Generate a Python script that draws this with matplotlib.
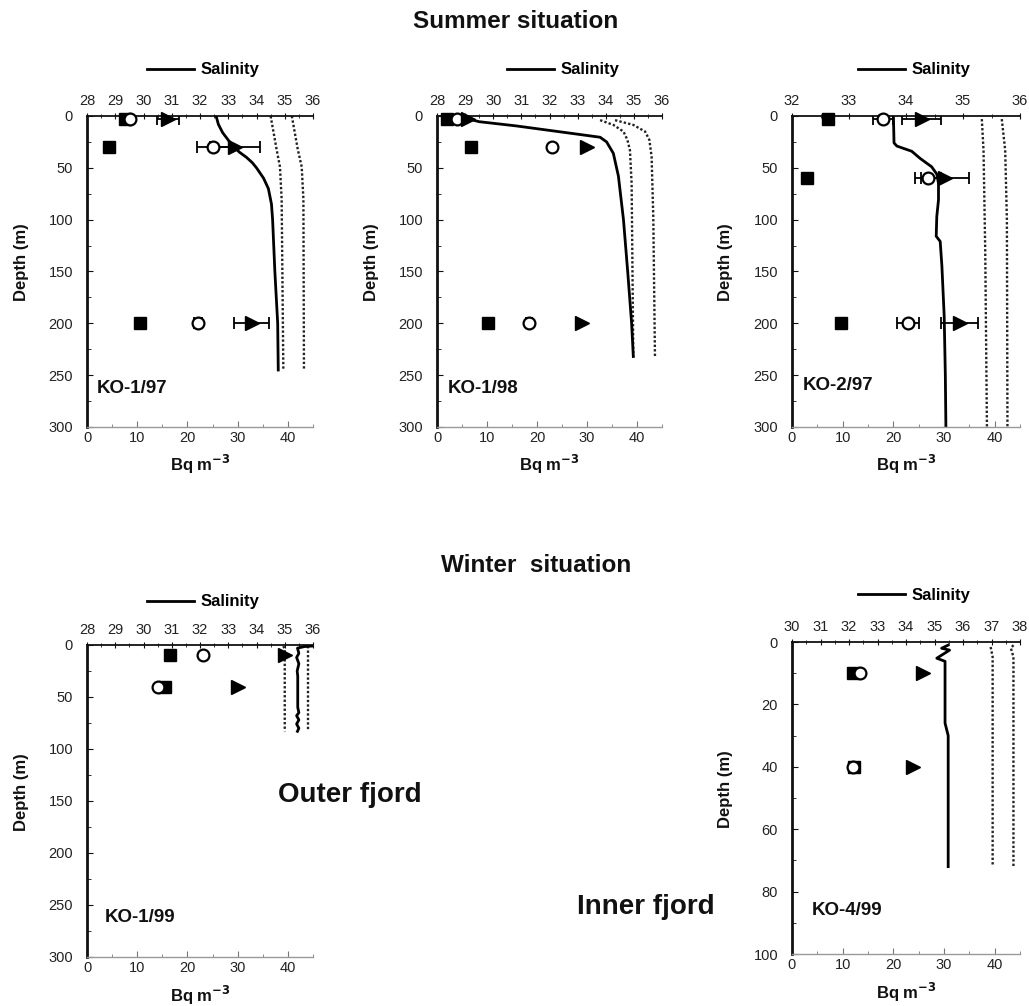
import matplotlib
matplotlib.use("Agg")
import matplotlib.pyplot as plt
from matplotlib.ticker import MultipleLocator

plt.rcParams['font.family'] = ['Liberation Sans', 'DejaVu Sans']
plt.rcParams['xtick.labelsize'] = 10.5
plt.rcParams['ytick.labelsize'] = 10.5

# ---------------- data ----------------
# Panel KO-1/97
p1_depth = [3, 30, 200]
p1_sq = [7.5, 4.4, 10.6]
p1_ci = [8.6, 25.1, 22.1]
p1_ci_err = [0.6, 3.1, 0.8]
p1_tr = [16.2, 29.5, 32.8]
p1_tr_err = [2.2, 5.0, 3.5]
p1_sal_d = [0, 8, 16, 25, 30, 35, 40, 45, 50, 60, 70, 85, 100, 150, 200, 245]
p1_sal = [32.57, 32.65, 32.8, 33.05, 33.2, 33.4, 33.65, 33.85, 34.0, 34.25, 34.42, 34.53, 34.57, 34.65, 34.75, 34.77]
p1_dot1_d = [0, 32, 49, 80, 245]
p1_dot1 = [34.5, 34.71, 34.83, 34.89, 34.95]
p1_dot2_d = [0, 32, 49, 80, 245]
p1_dot2 = [35.25, 35.46, 35.6, 35.66, 35.68]

# Panel KO-1/98
p2_depth = [3, 30, 200]
p2_sq = [2.0, 6.8, 10.2]
p2_ci = [4.0, 23.0, 18.4]
p2_ci_err = [0.0, 0.0, 0.6]
p2_tr = [6.2, 30.0, 28.9]
p2_tr_err = [0.0, 0.0, 0.0]
p2_sal_d = [2, 5.5, 9.5, 17, 20.5, 25, 36, 58, 100, 150, 200, 232]
p2_sal = [29.0, 29.5, 30.8, 32.85, 33.8, 34.03, 34.27, 34.45, 34.63, 34.78, 34.92, 34.98]
p2_dot1_d = [4, 8.6, 15, 23, 33, 65, 232]
p2_dot1 = [33.8, 34.27, 34.63, 34.77, 34.86, 34.92, 34.98]
p2_dot2_d = [4, 8.6, 15, 23, 39, 97, 232]
p2_dot2 = [34.33, 34.98, 35.4, 35.55, 35.63, 35.69, 35.75]

# Panel KO-2/97
p3_depth = [3, 60, 200]
p3_sq = [7.1, 3.0, 9.7]
p3_ci = [18.0, 26.8, 22.9]
p3_ci_err = [2.0, 2.6, 2.2]
p3_tr = [25.6, 30.2, 33.1]
p3_tr_err = [3.8, 4.8, 3.6]
p3_sal_d = [2, 26, 29, 34, 41, 49, 56, 65, 81, 97, 116, 121, 145, 193, 250, 300]
p3_sal = [33.78, 33.79, 33.84, 34.1, 34.25, 34.45, 34.54, 34.57, 34.57, 34.54, 34.53, 34.6, 34.63, 34.67, 34.69, 34.7]
p3_dot1_d = [3, 33, 130, 300]
p3_dot1 = [35.33, 35.36, 35.39, 35.42]
p3_dot2_d = [3, 33, 100, 300]
p3_dot2 = [35.68, 35.74, 35.77, 35.78]

# Panel KO-1/99
p4_depth = [10, 40]
p4_sq = [16.5, 15.5]
p4_ci = [23.1, 14.2]
p4_ci_err = [0.0, 0.0]
p4_tr = [39.4, 30.1]
p4_tr_err = [0.0, 0.0]
p4_sal_d = [0.5, 1.5, 3, 8, 12, 18, 25, 30, 60, 65, 68, 72, 76, 80, 83]
p4_sal = [36.25, 35.7, 35.45, 35.5, 35.42, 35.5, 35.44, 35.46, 35.46, 35.5, 35.42, 35.5, 35.42, 35.5, 35.45]
p4_dot1_d = [1, 4, 83]
p4_dot1 = [34.95, 35.0, 35.0]
p4_dot2_d = [0.5, 4, 83]
p4_dot2 = [35.82, 35.82, 35.82]

# Panel KO-4/99
p5_depth = [10, 40]
p5_sq = [12.0, 12.2]
p5_ci = [13.4, 12.0]
p5_ci_err = [0.0, 0.0]
p5_tr = [25.8, 23.9]
p5_tr_err = [0.0, 0.0]
p5_sal_d = [1, 2, 2.6, 5.2, 6.2, 26, 30, 72]
p5_sal = [35.48, 35.25, 35.53, 35.08, 35.37, 35.37, 35.48, 35.48]
p5_dot1_d = [1.6, 4.8, 72]
p5_dot1 = [36.97, 37.04, 37.04]
p5_dot2_d = [1, 2, 4.8, 72]
p5_dot2 = [37.77, 37.68, 37.77, 37.77]

W, H = 1029, 1006
fig = plt.figure(figsize=(W / 100, H / 100), dpi=100)

BOLD = ['Liberation Sans', 'DejaVu Sans']


def rect(x0, y0, x1, y1):
    return [x0 / W, 1 - y1 / H, (x1 - x0) / W, (y1 - y0) / H]


def panel(r, depth, sq, ci, ci_err, tr, tr_err, sal_d, sal, d1d, d1, d2d, d2,
          ymax, ymajor, sal_lo, sal_hi, label, lab_xy, leg_x, leg_y):
    ax = fig.add_axes(r)
    ax.set_xlim(0, 45)
    ax.set_ylim(ymax, 0)
    ax.xaxis.set_major_locator(MultipleLocator(10))
    ax.xaxis.set_minor_locator(MultipleLocator(5))
    ax.yaxis.set_major_locator(MultipleLocator(ymajor))
    ax.yaxis.set_minor_locator(MultipleLocator(ymajor / 2))
    for s in ['top', 'right']:
        ax.spines[s].set_visible(False)
    ax.spines['left'].set_linewidth(2.0)
    ax.spines['left'].set_color('#111111')
    ax.spines['bottom'].set_linewidth(1.0)
    ax.spines['bottom'].set_color('#999999')
    ax.tick_params(axis='x', which='major', direction='in', length=4, color='#777777',
                   pad=3, labelcolor='#222222')
    ax.tick_params(axis='x', which='minor', direction='in', length=2, color='#777777')
    ax.tick_params(axis='y', which='major', direction='in', length=4, color='#111111',
                   pad=10, labelcolor='#222222')
    ax.tick_params(axis='y', which='minor', direction='in', length=3, color='#111111')

    ax2 = ax.twiny()
    ax2.set_xlim(sal_lo, sal_hi)
    ax2.xaxis.set_major_locator(MultipleLocator(1))
    ax2.xaxis.set_minor_locator(MultipleLocator(0.5))
    for s in ['bottom', 'left', 'right']:
        ax2.spines[s].set_visible(False)
    ax2.spines['top'].set_linewidth(1.3)
    ax2.spines['top'].set_color('#111111')
    ax2.tick_params(axis='x', which='major', direction='inout', length=5, pad=3,
                    color='#111111', labelcolor='#222222')
    ax2.tick_params(axis='x', which='minor', direction='inout', length=3, color='#111111')

    ln, = ax2.plot(sal, sal_d, color='black', lw=2.0, label='Salinity', zorder=3)
    ax2.plot(d1, d1d, color='#222222', lw=1.7, ls=(0, (1, 0.9)), zorder=2)
    ax2.plot(d2, d2d, color='#222222', lw=1.7, ls=(0, (1, 0.9)), zorder=2)
    ax2.set_ylim(ymax, 0)

    ax.set_zorder(ax2.get_zorder() + 1)
    ax.patch.set_visible(False)
    if any(ci_err):
        ax.errorbar(ci, depth, xerr=ci_err, fmt='none', ecolor='black', elinewidth=1.3,
                    capsize=4, capthick=1.3, zorder=4)
    if any(tr_err):
        ax.errorbar(tr, depth, xerr=tr_err, fmt='none', ecolor='black', elinewidth=1.3,
                    capsize=4, capthick=1.3, zorder=4)
    ax.plot(sq, depth, ls='none', marker='s', ms=8, mfc='black', mec='black', zorder=5,
            clip_on=False)
    ax.plot(ci, depth, ls='none', marker='o', ms=8.5, mfc='white', mec='black', mew=1.6,
            zorder=6, clip_on=False)
    ax.plot(tr, depth, ls='none', marker='>', ms=10, mfc='black', mec='black', zorder=7,
            clip_on=False)

    ax.text(lab_xy[0], lab_xy[1], label, transform=ax.transAxes, fontsize=13.5,
            fontweight='bold', family=BOLD, ha='left', va='center', color='#111111')
    ax.text(-0.29, 0.53, 'Depth (m)', transform=ax.transAxes, rotation=90, fontsize=12,
            fontweight='bold', family=BOLD, ha='center', va='center', color='#111111')
    ax.text(0.5, -0.122, r'Bq m$^{\mathbf{-3}}$', transform=ax.transAxes, fontsize=12,
            fontweight='bold', family=BOLD, ha='center', va='center', color='#111111')
    ax2.legend(handles=[ln], loc='center', bbox_to_anchor=(leg_x, leg_y),
               frameon=False, handlelength=2.8, handletextpad=0.4,
               prop=dict(family=BOLD, weight='bold', size=12))
    return ax, ax2


panel(rect(87, 116, 313, 427), p1_depth, p1_sq, p1_ci, p1_ci_err, p1_tr, p1_tr_err,
      p1_sal_d, p1_sal, p1_dot1_d, p1_dot1, p1_dot2_d, p1_dot2,
      300, 50, 28, 36, 'KO-1/97', (0.044, 0.125), 0.515, 1.148)
panel(rect(437, 116, 662, 427), p2_depth, p2_sq, p2_ci, p2_ci_err, p2_tr, p2_tr_err,
      p2_sal_d, p2_sal, p2_dot1_d, p2_dot1, p2_dot2_d, p2_dot2,
      300, 50, 28, 36, 'KO-1/98', (0.049, 0.125), 0.56, 1.148)
panel(rect(792, 116, 1020, 427), p3_depth, p3_sq, p3_ci, p3_ci_err, p3_tr, p3_tr_err,
      p3_sal_d, p3_sal, p3_dot1_d, p3_dot1, p3_dot2_d, p3_dot2,
      300, 50, 32, 36, 'KO-2/97', (0.048, 0.135), 0.535, 1.148)
panel(rect(87, 645, 313, 957), p4_depth, p4_sq, p4_ci, p4_ci_err, p4_tr, p4_tr_err,
      p4_sal_d, p4_sal, p4_dot1_d, p4_dot1, p4_dot2_d, p4_dot2,
      300, 50, 28, 36, 'KO-1/99', (0.08, 0.128), 0.515, 1.138)
panel(rect(792, 642, 1020, 954), p5_depth, p5_sq, p5_ci, p5_ci_err, p5_tr, p5_tr_err,
      p5_sal_d, p5_sal, p5_dot1_d, p5_dot1, p5_dot2_d, p5_dot2,
      100, 20, 30, 38, 'KO-4/99', (0.088, 0.141), 0.535, 1.148)

fig.text(516 / W, 1 - 22 / H, 'Summer situation', fontsize=17.5, fontweight='bold',
         family=BOLD, ha='center', va='center', color='#111111')
fig.text(536 / W, 1 - 565 / H, 'Winter  situation', fontsize=17.5, fontweight='bold',
         family=BOLD, ha='center', va='center', color='#111111')
fig.text(350 / W, 1 - 795 / H, 'Outer fjord', fontsize=20, fontweight='bold',
         family=BOLD, ha='center', va='center', color='#111111')
fig.text(646 / W, 1 - 907 / H, 'Inner fjord', fontsize=20, fontweight='bold',
         family=BOLD, ha='center', va='center', color='#111111')

fig.savefig('out.png', dpi=100)
